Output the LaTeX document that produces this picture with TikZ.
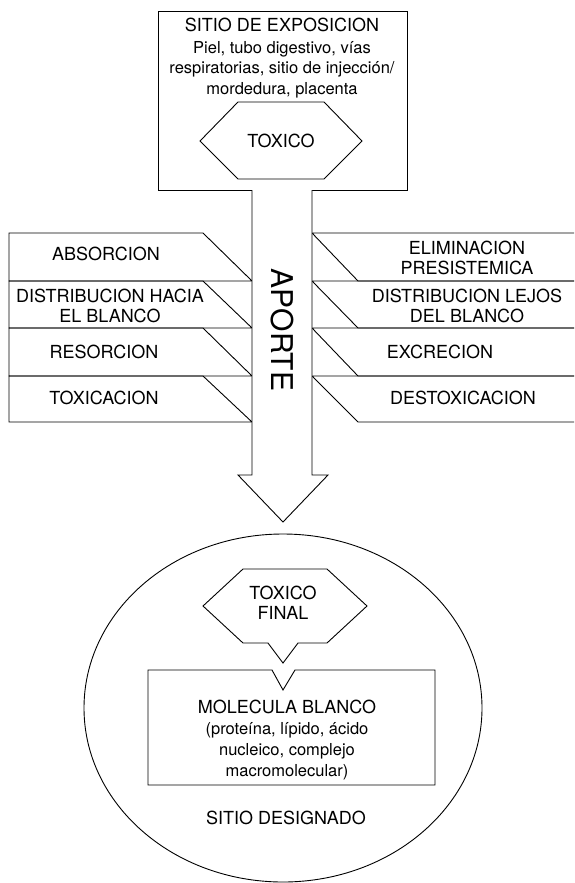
\documentclass[tikz,border=0pt]{standalone}
\usepackage{fontspec}
\setmainfont{TeX Gyre Heros}

\begin{document}
\begin{tikzpicture}[x=1pt,y=-1pt,line width=0.9pt,
    caps/.style={font=\fontsize{18}{20}\selectfont,align=center,inner sep=0pt},
    small/.style={font=\fontsize{16.5}{20.5}\selectfont,inner sep=0pt,anchor=base}]
  \useasboundingbox (0,0) rectangle (574,883);
  \draw (158,11) rectangle (407,190);
  \node[caps] (expo) at (282,25) {SITIO DE EXPOSICION};
  \node[small] (piel) at (282,53) {Piel, tubo digestivo, vías};
  \node[small] (resp) at (282,74) {respiratorias, sitio de injección/};
  \node[small] (mord) at (282,94) {mordedura, placenta};
  \draw (238,102) -- (324,102) -- (362,141) -- (324,179) -- (238,179) -- (200,141) -- cycle;
  \node[caps] (toxico) at (281,141) {TOXICO};
  \foreach \t/\b in {233/281,281/328,328/376,376/422}{
    \draw (9,\t) -- (203,\t) -- (252,\b) -- (9,\b) -- cycle;
    \draw (574,\t) -- (312,\t) -- (358,\b) -- (574,\b);
  }
  \draw[fill=white] (252,190) -- (252,475) -- (238,475) -- (283,522) -- (328,475) -- (312,475) -- (312,190);
  \node[font=\fontsize{30}{30}\selectfont,rotate=-90,inner sep=0pt] (aporte) at (282,330) {APORTE};
  \node[caps] (absorcion) at (106,254) {ABSORCION};
  \node[caps] (hacia) at (110,306) {DISTRIBUCION HACIA\\EL BLANCO};
  \node[caps] (resorcion) at (104,352) {RESORCION};
  \node[caps] (toxicacion) at (104,398) {TOXICACION};
  \node[caps] (elim) at (467,258) {ELIMINACION\\PRESISTEMICA};
  \node[caps] (lejos) at (467,306) {DISTRIBUCION LEJOS\\DEL BLANCO};
  \node[caps] (excrecion) at (440,352) {EXCRECION};
  \node[caps] (destox) at (463,398) {DESTOXICACION};
  \draw (283,708) ellipse [x radius=199, y radius=174];
  \draw (148,670) -- (272,670) -- (283,690) -- (295,670) -- (435,670) -- (435,785) -- (148,785) -- cycle;
  \draw (243,569) -- (327,569) -- (367,606) -- (327,643) -- (298,643) -- (283,663) -- (268,643) -- (243,643) -- (203,606) -- cycle;
  \node[caps] (final) at (283,603) {TOXICO\\FINAL};
  \node[caps] (molecula) at (287,707) {MOLECULA BLANCO};
  \node[small] (prot) at (287,734) {(proteína, lípido, ácido};
  \node[small] (nucl) at (287,755) {nucleico, complejo};
  \node[small] (macro) at (287,776) {macromolecular)};
  \node[caps] (designado) at (286,818) {SITIO DESIGNADO};
\end{tikzpicture}
\end{document}
